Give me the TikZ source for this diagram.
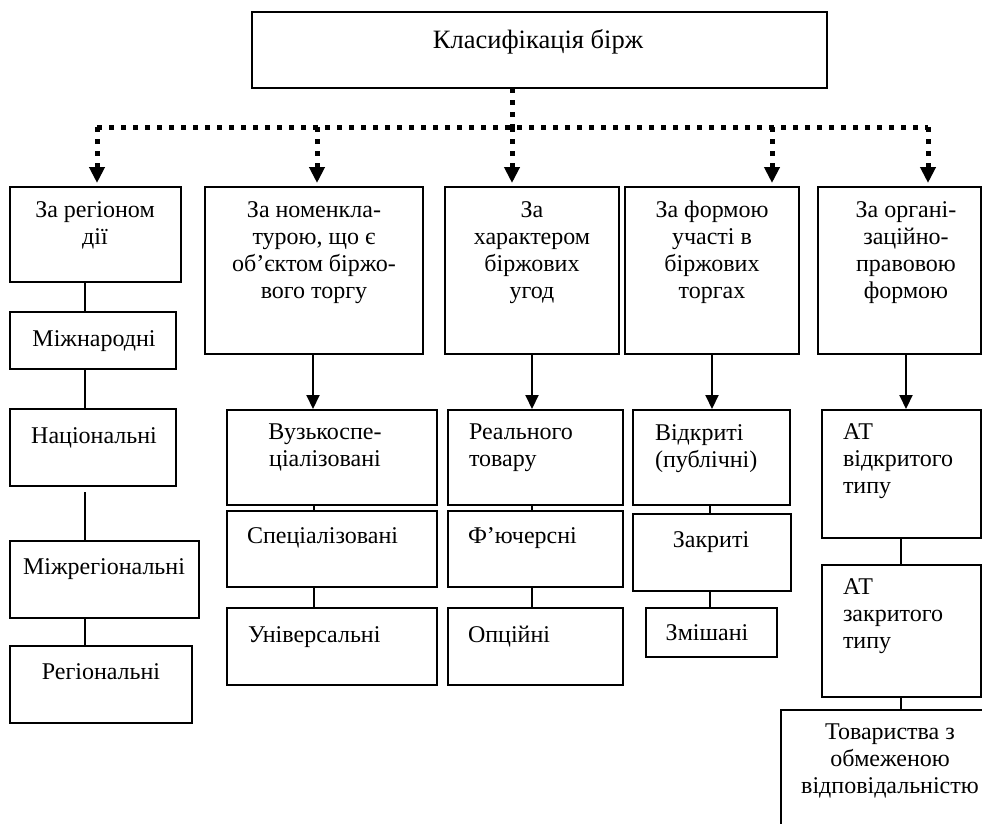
\documentclass[tikz,border=0pt]{standalone}
\usepackage{fontspec}
\setmainfont{Liberation Serif}
\usetikzlibrary{arrows.meta}
\tikzset{
  bx/.style={draw, line width=2pt, inner sep=0pt, outer sep=0pt},
  txt/.style={inner sep=0pt, outer sep=0pt, font=\fontsize{24}{27}\selectfont, execute at begin node=\strut},
  dotl/.style={line width=5pt, dash pattern=on 5pt off 7pt},
  dotarr/.style={dotl, -{Triangle[length=16pt,width=15pt]}, shorten >=4pt},
  arr/.style={line width=2pt, -{Triangle[length=14pt,width=13pt]}, shorten >=1pt},
  ln/.style={line width=2pt},
}
\newcommand\mybox[5]{\node[bx, anchor=north west, minimum width={(#4-#2)*1pt}, minimum height={(#5-#3)*1pt}] (#1) at (#2,-#3) {};}
\newcommand\ctext[4]{\node[txt, anchor=north, align=center] (#1) at ({#2},{18.9-#3}) {#4};}
\newcommand\ltext[4]{\node[txt, anchor=north west, align=left] (#1) at ({#2},{18.9-#3}) {#4};}
\begin{document}
\begin{tikzpicture}[x=1pt, y=1pt]
\useasboundingbox (0,0) rectangle (982,-823);
% boxes
\mybox{top}{252}{12}{827}{88}
\mybox{reg}{10}{187}{181}{282}
\mybox{nom}{205}{187}{423}{354}
\mybox{har}{445}{187}{619}{354}
\mybox{form}{625}{187}{799}{354}
\mybox{org}{818}{187}{981}{354}
\mybox{mizh}{10}{312}{176}{369}
\mybox{nat}{10}{409}{176}{486}
\mybox{mreg}{10}{541}{199}{618}
\mybox{regl}{10}{646}{192}{723}
\mybox{vuz}{227}{410}{437}{505}
\mybox{spec}{227}{511}{437}{587}
\mybox{univ}{227}{608}{437}{685}
\mybox{real}{448}{410}{623}{505}
\mybox{fut}{448}{511}{623}{587}
\mybox{opc}{448}{608}{623}{685}
\mybox{vidk}{633}{410}{790}{505}
\mybox{zakr}{633}{514}{791}{591}
\mybox{zmish}{646}{608}{777}{657}
\mybox{atv}{822}{410}{981}{538}
\mybox{atz}{822}{565}{981}{697}
\mybox{tov}{781}{710}{999}{840}
% texts
\node[inner sep=0pt, font=\fontsize{26.5}{30}\selectfont, anchor=base] (ttop) at (538,-48) {Класифікація бірж};
\ctext{treg}{95}{220}{За регіоном\\дії}
\ctext{tnom}{314}{220}{За номенкла-\\турою, що є\\об’єктом біржо-\\вого торгу}
\ctext{thar}{532}{220}{За\\характером\\біржових\\угод}
\ctext{tform}{712}{220}{За формою\\участі в\\біржових\\торгах}
\ctext{torg}{906}{220}{За органі-\\заційно-\\правовою\\формою}
\ctext{tmizh}{94}{346}{Міжнародні}
\ctext{tnat}{94}{443}{Національні}
\ctext{tmreg}{104}{574}{Міжрегіональні}
\ctext{tregl}{101}{679}{Регіональні}
\ctext{tvuz}{325}{443}{Вузькоспе-\\ціалізовані}
\ltext{tspec}{247}{543}{Спеціалізовані}
\ltext{tuniv}{248}{642}{Універсальні}
\ltext{treal}{469}{443}{Реального\\товару}
\ltext{tfut}{468}{543}{Ф’ючерсні}
\ltext{topc}{468}{642}{Опційні}
\ltext{tvidk}{655}{443}{Відкриті\\(публічні)}
\ctext{tzakr}{711}{547}{Закриті}
\ctext{tzmish}{707}{640}{Змішані}
\ltext{tatv}{843}{443}{АТ\\відкритого\\типу}
\ltext{tatz}{843}{598}{АТ\\закритого\\типу}
\ctext{ttov}{890}{743}{Товариства з\\обмеженою\\відповідальністю}
% dotted distribution
\coordinate (h1) at (97,-127);
\coordinate (h2) at (317,-127);
\coordinate (h3) at (512,-127);
\coordinate (h4) at (772,-127);
\coordinate (h5) at (928,-127);
\draw[dotl] (top.south -| h3) -- (h3);
\draw[dotl] (h1) -- (h5);
\draw[dotarr] (h1) -- (reg.north -| h1);
\draw[dotarr] (h2) -- (nom.north -| h2);
\draw[dotarr] (h3) -- (har.north -| h3);
\draw[dotarr] (h4) -- (form.north -| h4);
\draw[dotarr] (h5) -- (org.north -| h5);
% solid arrows
\coordinate (a2) at (313,0);
\coordinate (a3) at (532,0);
\coordinate (a4) at (712,0);
\coordinate (a5) at (906,0);
\draw[arr] (nom.south -| a2) -- (vuz.north -| a2);
\draw[arr] (har.south -| a3) -- (real.north -| a3);
\draw[arr] (form.south -| a4) -- (vidk.north -| a4);
\draw[arr] (org.south -| a5) -- (atv.north -| a5);
% plain links
\coordinate (c1) at (85,0);
\coordinate (c2) at (314,0);
\coordinate (c3) at (532,0);
\coordinate (c4) at (710,0);
\coordinate (c5) at (901,0);
\draw[ln] (reg.south -| c1) -- (mizh.north -| c1);
\draw[ln] (mizh.south -| c1) -- (nat.north -| c1);
\draw[ln] ([yshift=-6pt]nat.south -| c1) -- (mreg.north -| c1);
\draw[ln] (mreg.south -| c1) -- (regl.north -| c1);
\draw[ln] (vuz.south -| c2) -- (spec.north -| c2);
\draw[ln] (spec.south -| c2) -- (univ.north -| c2);
\draw[ln] (real.south -| c3) -- (fut.north -| c3);
\draw[ln] (fut.south -| c3) -- (opc.north -| c3);
\draw[ln] (vidk.south -| c4) -- (zakr.north -| c4);
\draw[ln] (zakr.south -| c4) -- (zmish.north -| c4);
\draw[ln] (atv.south -| c5) -- (atz.north -| c5);
\draw[ln] (atz.south -| c5) -- (tov.north -| c5);
\end{tikzpicture}
\end{document}
